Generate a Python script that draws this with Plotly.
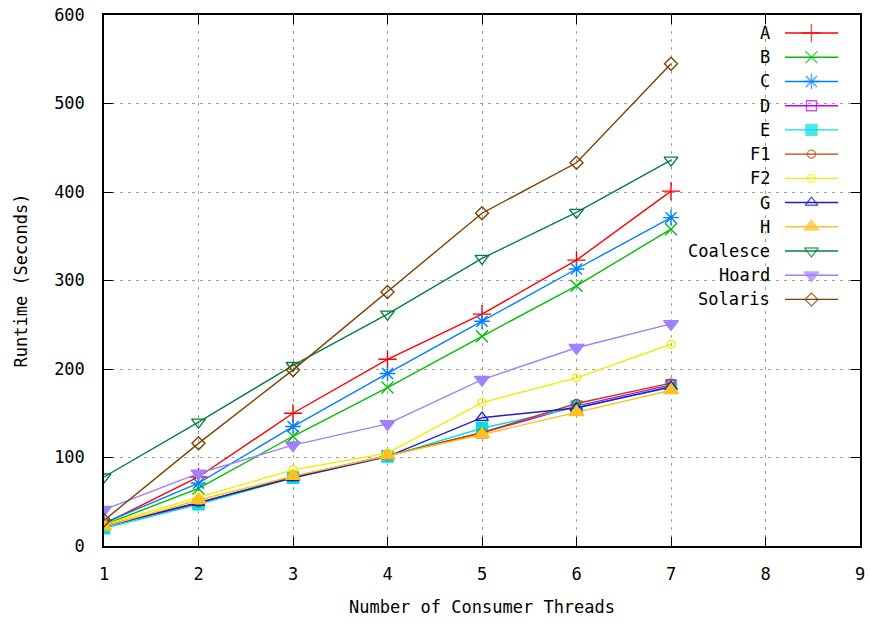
import plotly.graph_objects as go

# Runtime (seconds) versus number of consumer threads, per allocator
threads = [1, 2, 3, 4, 5, 6, 7]

names = ["A", "B", "C", "D", "E", "F1", "F2", "G", "H", "Coalesce", "Hoard", "Solaris"]

rt_a = [25, 78, 150, 211, 262, 323, 401]
rt_b = [24, 65, 124, 179, 237, 294, 358]
rt_c = [26, 71, 135, 195, 254, 313, 371]
rt_d = [22, 48, 78, 102, 128, 158, 182]
rt_e = [20, 47, 77, 101, 133, 157, 179]
rt_f1 = [23, 49, 78, 102, 128, 161, 184]
rt_f2 = [24, 55, 86, 105, 162, 190, 228]
rt_g = [22, 49, 77, 101, 145, 156, 180]
rt_h = [22, 52, 79, 102, 126, 151, 176]
rt_coalesce = [78, 140, 204, 262, 325, 377, 436]
rt_hoard = [41, 82, 114, 138, 188, 224, 251]
rt_solaris = [29, 116, 199, 287, 376, 433, 545]

x_ticks = [1, 2, 3, 4, 5, 6, 7, 8, 9]
y_ticks = [0, 100, 200, 300, 400, 500, 600]

series = [rt_a, rt_b, rt_c, rt_d, rt_e, rt_f1, rt_f2, rt_g, rt_h,
          rt_coalesce, rt_hoard, rt_solaris]

colors = ["#ff0000", "#00c000", "#0080ff", "#c000ff", "#00e0e0", "#c04000",
          "#eeee00", "#2020c0", "#ffc020", "#008040", "#a080ff", "#804000"]
symbols = ["cross-thin-open", "x-thin-open", "asterisk-open", "square-open", "square",
           "circle-open", "circle-open", "triangle-up-open", "triangle-up",
           "triangle-down-open", "triangle-down", "diamond-open"]
sizes = [13, 12, 13, 10, 11, 8, 8, 11, 13, 12, 13, 10]

FONT = "DejaVu Sans Mono"

fig = go.Figure()

for name, ys, col, sym, sz in zip(names, series, colors, symbols, sizes):
    fig.add_trace(go.Scatter(
        x=threads, y=ys, name=name, mode="lines+markers",
        line=dict(color=col, width=1.4),
        marker=dict(symbol=sym, size=sz, color=col,
                    line=dict(color=col, width=1.4)),
        showlegend=False, xaxis="x", yaxis="y",
    ))

# Key drawn in the top-right corner: label on the left, line sample on the right
row0, row_step = 0.034, 0.0456
for i, (name, col, sym, sz) in enumerate(zip(names, colors, symbols, sizes)):
    yk = row0 + i * row_step
    fig.add_trace(go.Scatter(
        x=[0.9008, 0.9358, 0.971], y=[yk, yk, yk], mode="lines+markers",
        line=dict(color=col, width=1.4),
        marker=dict(symbol=sym, size=[0, sz, 0], color=col,
                    line=dict(color=col, width=1.4)),
        showlegend=False, hoverinfo="skip", xaxis="x2", yaxis="y2",
    ))
    fig.add_annotation(x=0.8836, y=yk, xref="x2", yref="y2", text=name,
                       showarrow=False, xanchor="right", yanchor="middle",
                       font=dict(family=FONT, size=17, color="black"))

grid_dash = "3px,5px"
fig.update_layout(
    width=870, height=624,
    margin=dict(l=104, r=10, t=15, b=78, autoexpand=False),
    paper_bgcolor="white", plot_bgcolor="white",
    font=dict(family=FONT, size=17, color="black"),
    xaxis=dict(
        range=[1, 9], tickvals=x_ticks, ticktext=[str(v) for v in x_ticks],
        showgrid=True, gridcolor="#a0a0a0", griddash=grid_dash, gridwidth=1,
        zeroline=False, showline=True, linecolor="black", linewidth=1.5,
        mirror="allticks", ticks="inside", ticklen=9, tickcolor="black",
        ticklabelstandoff=12, automargin=False,
        title=dict(text="Number of Consumer Threads", standoff=18,
                   font=dict(family=FONT, size=17)),
    ),
    yaxis=dict(
        range=[0, 600], tickvals=y_ticks, ticktext=[str(v) for v in y_ticks],
        showgrid=True, gridcolor="#a0a0a0", griddash=grid_dash, gridwidth=1,
        zeroline=False, showline=True, linecolor="black", linewidth=1.5,
        mirror="allticks", ticks="inside", ticklen=9, tickcolor="black",
        ticklabelstandoff=14, automargin=False,
        title=dict(text="Runtime (Seconds)", standoff=22,
                   font=dict(family=FONT, size=17)),
    ),
    xaxis2=dict(range=[0, 1], overlaying="x", visible=False, fixedrange=True),
    yaxis2=dict(range=[1, 0], overlaying="y", visible=False, fixedrange=True),
)

fig.write_html("out.html")
